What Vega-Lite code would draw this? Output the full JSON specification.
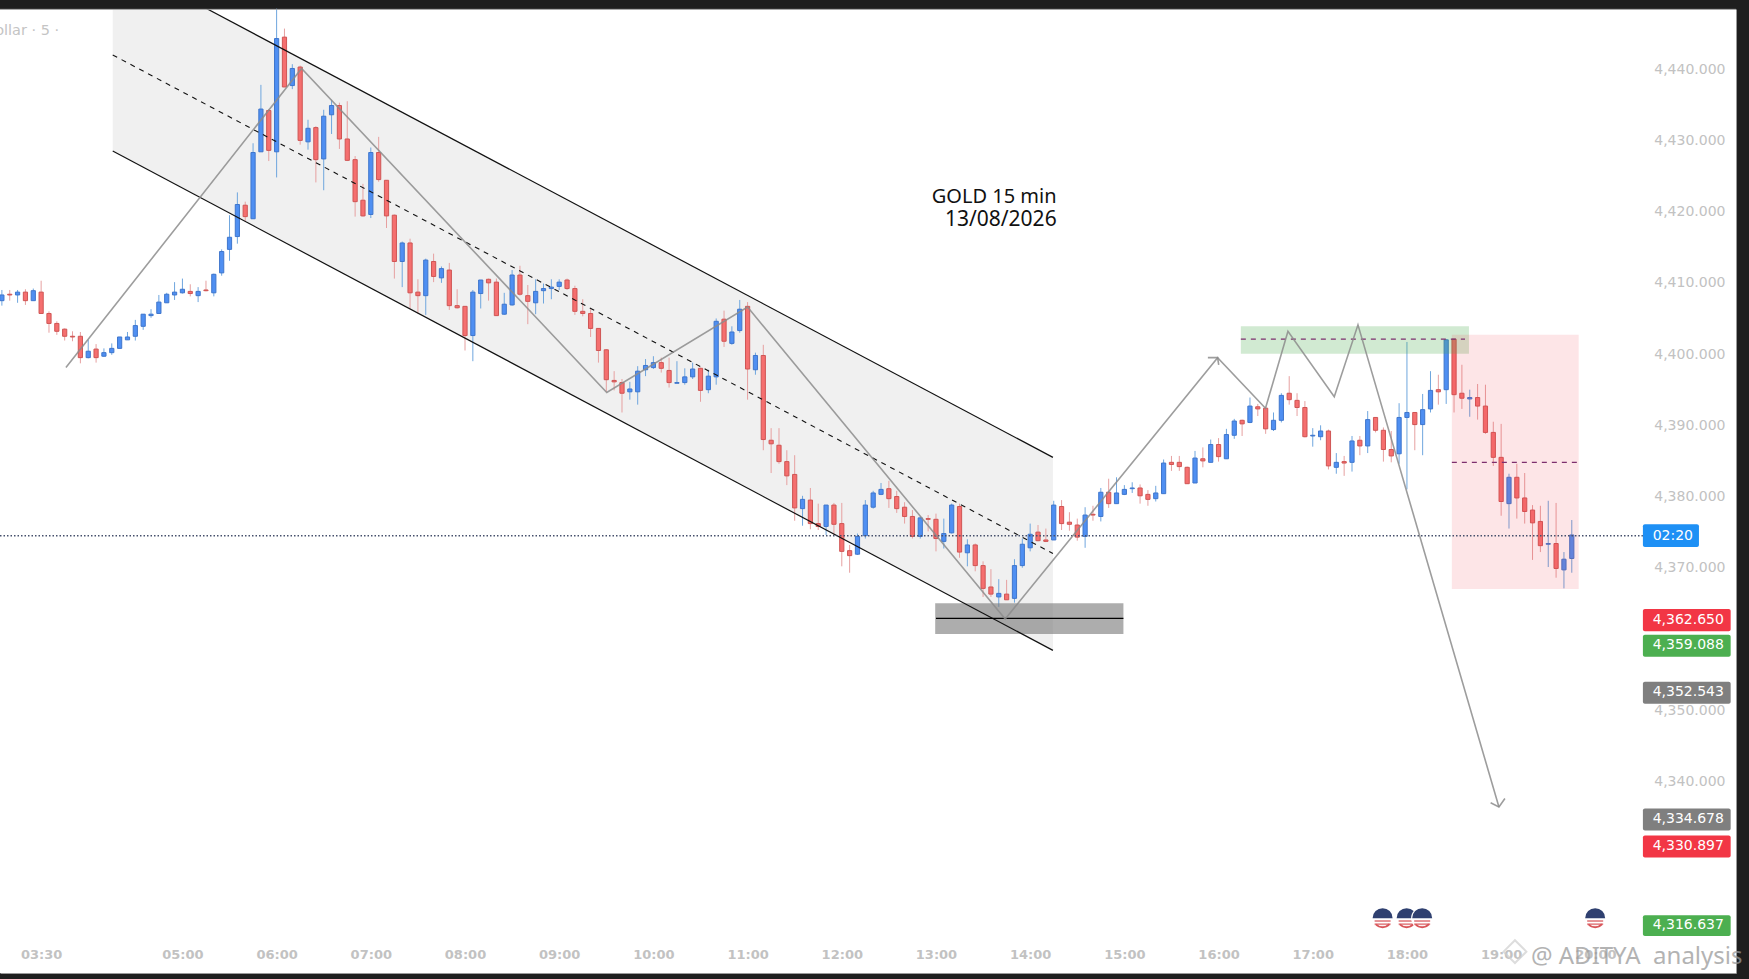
{
  "$schema": "https://vega.github.io/schema/vega-lite/v6.json",
  "width": 1736,
  "height": 964,
  "autosize": {"type": "none"},
  "padding": {"top": 9, "right": 13, "bottom": 6, "left": 0},
  "background": "#1e1e1e",
  "view": {"fill": "#ffffff", "stroke": null},
  "config": {
    "axis": {"grid": false, "ticks": false, "title": null, "labelOverlap": false, "domainColor": "#9a9a9a", "labelColor": "#c2c2c2", "labelFont": "DejaVu Sans"}
  },
  "datasets": {
    "candles": [
      {"t":"2026-08-13T03:05","o":4407.5,"h":4409.0,"l":4406.8,"c":4408.3},
      {"t":"2026-08-13T03:10","o":4408.4,"h":4409.0,"l":4407.5,"c":4408.3},
      {"t":"2026-08-13T03:15","o":4408.3,"h":4409.0,"l":4407.2,"c":4408.7},
      {"t":"2026-08-13T03:20","o":4408.7,"h":4409.1,"l":4406.9,"c":4407.5},
      {"t":"2026-08-13T03:25","o":4407.5,"h":4409.2,"l":4407.5,"c":4408.9},
      {"t":"2026-08-13T03:30","o":4408.7,"h":4410.3,"l":4405.7,"c":4405.7},
      {"t":"2026-08-13T03:35","o":4405.7,"h":4406.0,"l":4403.0,"c":4404.3},
      {"t":"2026-08-13T03:40","o":4404.3,"h":4404.6,"l":4402.7,"c":4403.2},
      {"t":"2026-08-13T03:45","o":4403.5,"h":4403.6,"l":4401.9,"c":4402.5},
      {"t":"2026-08-13T03:50","o":4402.5,"h":4403.2,"l":4401.8,"c":4402.4},
      {"t":"2026-08-13T03:55","o":4402.5,"h":4403.1,"l":4398.7,"c":4399.5},
      {"t":"2026-08-13T04:00","o":4399.5,"h":4402.0,"l":4399.4,"c":4400.4},
      {"t":"2026-08-13T04:05","o":4400.7,"h":4401.4,"l":4398.8,"c":4399.5},
      {"t":"2026-08-13T04:10","o":4399.7,"h":4400.8,"l":4399.6,"c":4400.2},
      {"t":"2026-08-13T04:15","o":4400.2,"h":4401.5,"l":4399.9,"c":4400.8},
      {"t":"2026-08-13T04:20","o":4400.8,"h":4402.4,"l":4400.8,"c":4402.4},
      {"t":"2026-08-13T04:25","o":4402.0,"h":4403.1,"l":4402.0,"c":4402.4},
      {"t":"2026-08-13T04:30","o":4402.5,"h":4404.8,"l":4401.9,"c":4404.0},
      {"t":"2026-08-13T04:35","o":4403.9,"h":4405.6,"l":4403.4,"c":4405.6},
      {"t":"2026-08-13T04:40","o":4405.4,"h":4406.3,"l":4405.1,"c":4405.6},
      {"t":"2026-08-13T04:45","o":4405.7,"h":4408.3,"l":4405.7,"c":4407.3},
      {"t":"2026-08-13T04:50","o":4407.2,"h":4408.6,"l":4407.2,"c":4408.4},
      {"t":"2026-08-13T04:55","o":4408.3,"h":4410.1,"l":4407.6,"c":4408.7},
      {"t":"2026-08-13T05:00","o":4408.6,"h":4410.6,"l":4408.5,"c":4409.1},
      {"t":"2026-08-13T05:05","o":4408.8,"h":4409.8,"l":4408.1,"c":4408.5},
      {"t":"2026-08-13T05:10","o":4408.2,"h":4409.4,"l":4407.3,"c":4408.8},
      {"t":"2026-08-13T05:15","o":4409.0,"h":4410.3,"l":4408.8,"c":4408.9},
      {"t":"2026-08-13T05:20","o":4408.6,"h":4411.3,"l":4408.1,"c":4411.2},
      {"t":"2026-08-13T05:25","o":4411.4,"h":4414.7,"l":4411.0,"c":4414.4},
      {"t":"2026-08-13T05:30","o":4414.7,"h":4419.5,"l":4413.1,"c":4416.4},
      {"t":"2026-08-13T05:35","o":4416.5,"h":4422.7,"l":4415.5,"c":4421.0},
      {"t":"2026-08-13T05:40","o":4420.9,"h":4421.4,"l":4418.6,"c":4419.3},
      {"t":"2026-08-13T05:45","o":4419.0,"h":4429.6,"l":4419.0,"c":4428.3},
      {"t":"2026-08-13T05:50","o":4428.4,"h":4437.8,"l":4428.4,"c":4434.4},
      {"t":"2026-08-13T05:55","o":4434.2,"h":4434.4,"l":4427.1,"c":4428.6},
      {"t":"2026-08-13T06:00","o":4428.4,"h":4448.5,"l":4424.8,"c":4444.3},
      {"t":"2026-08-13T06:05","o":4444.5,"h":4445.7,"l":4437.5,"c":4437.5},
      {"t":"2026-08-13T06:10","o":4437.7,"h":4440.7,"l":4437.2,"c":4440.1},
      {"t":"2026-08-13T06:15","o":4440.3,"h":4440.5,"l":4429.4,"c":4430.0},
      {"t":"2026-08-13T06:20","o":4429.8,"h":4432.9,"l":4428.7,"c":4431.7},
      {"t":"2026-08-13T06:25","o":4431.8,"h":4432.0,"l":4424.1,"c":4427.3},
      {"t":"2026-08-13T06:30","o":4427.4,"h":4434.3,"l":4423.0,"c":4433.4},
      {"t":"2026-08-13T06:35","o":4433.6,"h":4435.7,"l":4430.9,"c":4434.9},
      {"t":"2026-08-13T06:40","o":4434.9,"h":4435.3,"l":4428.8,"c":4430.2},
      {"t":"2026-08-13T06:45","o":4430.2,"h":4435.5,"l":4427.1,"c":4427.2},
      {"t":"2026-08-13T06:50","o":4427.3,"h":4427.8,"l":4419.3,"c":4421.4},
      {"t":"2026-08-13T06:55","o":4421.6,"h":4423.9,"l":4419.3,"c":4419.4},
      {"t":"2026-08-13T07:00","o":4419.6,"h":4429.0,"l":4419.1,"c":4428.3},
      {"t":"2026-08-13T07:05","o":4428.3,"h":4430.5,"l":4424.2,"c":4424.5},
      {"t":"2026-08-13T07:10","o":4424.4,"h":4424.4,"l":4417.7,"c":4419.4},
      {"t":"2026-08-13T07:15","o":4419.5,"h":4419.6,"l":4410.6,"c":4413.0},
      {"t":"2026-08-13T07:20","o":4413.0,"h":4415.8,"l":4409.4,"c":4415.6},
      {"t":"2026-08-13T07:25","o":4415.6,"h":4416.2,"l":4406.4,"c":4408.6},
      {"t":"2026-08-13T07:30","o":4408.7,"h":4410.5,"l":4405.7,"c":4408.2},
      {"t":"2026-08-13T07:35","o":4408.2,"h":4413.4,"l":4405.5,"c":4413.2},
      {"t":"2026-08-13T07:40","o":4413.0,"h":4414.1,"l":4410.1,"c":4410.9},
      {"t":"2026-08-13T07:45","o":4410.7,"h":4412.3,"l":4410.0,"c":4412.0},
      {"t":"2026-08-13T07:50","o":4411.8,"h":4412.8,"l":4406.2,"c":4406.8},
      {"t":"2026-08-13T07:55","o":4406.8,"h":4409.1,"l":4406.4,"c":4406.5},
      {"t":"2026-08-13T08:00","o":4406.7,"h":4406.7,"l":4400.5,"c":4402.6},
      {"t":"2026-08-13T08:05","o":4402.6,"h":4409.0,"l":4399.0,"c":4408.7},
      {"t":"2026-08-13T08:10","o":4408.5,"h":4410.4,"l":4406.4,"c":4410.4},
      {"t":"2026-08-13T08:15","o":4410.5,"h":4410.6,"l":4407.5,"c":4410.0},
      {"t":"2026-08-13T08:20","o":4410.1,"h":4410.6,"l":4405.4,"c":4405.4},
      {"t":"2026-08-13T08:25","o":4405.6,"h":4408.6,"l":4405.5,"c":4407.0},
      {"t":"2026-08-13T08:30","o":4406.9,"h":4411.8,"l":4406.8,"c":4411.1},
      {"t":"2026-08-13T08:35","o":4411.1,"h":4412.4,"l":4408.2,"c":4408.4},
      {"t":"2026-08-13T08:40","o":4408.2,"h":4409.7,"l":4404.2,"c":4407.4},
      {"t":"2026-08-13T08:45","o":4407.2,"h":4410.5,"l":4405.6,"c":4408.8},
      {"t":"2026-08-13T08:50","o":4408.9,"h":4409.9,"l":4407.1,"c":4409.2},
      {"t":"2026-08-13T08:55","o":4409.2,"h":4410.5,"l":4407.7,"c":4409.4},
      {"t":"2026-08-13T09:00","o":4409.5,"h":4410.5,"l":4409.0,"c":4410.1},
      {"t":"2026-08-13T09:05","o":4410.4,"h":4410.6,"l":4409.0,"c":4409.2},
      {"t":"2026-08-13T09:10","o":4409.2,"h":4409.6,"l":4405.5,"c":4406.0},
      {"t":"2026-08-13T09:15","o":4406.0,"h":4407.7,"l":4405.3,"c":4405.7},
      {"t":"2026-08-13T09:20","o":4405.7,"h":4406.3,"l":4402.4,"c":4403.6},
      {"t":"2026-08-13T09:25","o":4403.6,"h":4403.6,"l":4398.8,"c":4400.5},
      {"t":"2026-08-13T09:30","o":4400.6,"h":4400.7,"l":4394.7,"c":4396.4},
      {"t":"2026-08-13T09:35","o":4396.3,"h":4397.6,"l":4394.9,"c":4396.1},
      {"t":"2026-08-13T09:40","o":4396.0,"h":4396.5,"l":4391.8,"c":4394.5},
      {"t":"2026-08-13T09:45","o":4394.7,"h":4396.1,"l":4393.6,"c":4395.1},
      {"t":"2026-08-13T09:50","o":4394.7,"h":4398.3,"l":4392.9,"c":4397.6},
      {"t":"2026-08-13T09:55","o":4397.8,"h":4399.3,"l":4396.9,"c":4398.4},
      {"t":"2026-08-13T10:00","o":4398.1,"h":4399.7,"l":4397.9,"c":4398.8},
      {"t":"2026-08-13T10:05","o":4398.8,"h":4399.5,"l":4397.4,"c":4398.0},
      {"t":"2026-08-13T10:10","o":4397.7,"h":4399.5,"l":4395.3,"c":4396.0},
      {"t":"2026-08-13T10:15","o":4395.9,"h":4399.0,"l":4395.9,"c":4396.0},
      {"t":"2026-08-13T10:20","o":4396.0,"h":4398.0,"l":4395.7,"c":4396.8},
      {"t":"2026-08-13T10:25","o":4396.8,"h":4398.8,"l":4396.5,"c":4397.9},
      {"t":"2026-08-13T10:30","o":4398.0,"h":4398.1,"l":4393.3,"c":4394.9},
      {"t":"2026-08-13T10:35","o":4395.0,"h":4397.8,"l":4394.5,"c":4396.9},
      {"t":"2026-08-13T10:40","o":4396.8,"h":4405.0,"l":4395.7,"c":4404.6},
      {"t":"2026-08-13T10:45","o":4404.9,"h":4406.1,"l":4401.0,"c":4401.8},
      {"t":"2026-08-13T10:50","o":4401.5,"h":4403.9,"l":4401.3,"c":4403.1},
      {"t":"2026-08-13T10:55","o":4403.3,"h":4407.6,"l":4403.0,"c":4406.3},
      {"t":"2026-08-13T11:00","o":4406.7,"h":4407.3,"l":4393.6,"c":4397.9},
      {"t":"2026-08-13T11:05","o":4397.8,"h":4400.2,"l":4397.1,"c":4399.8},
      {"t":"2026-08-13T11:10","o":4399.8,"h":4401.3,"l":4386.5,"c":4388.0},
      {"t":"2026-08-13T11:15","o":4387.9,"h":4389.6,"l":4383.3,"c":4387.4},
      {"t":"2026-08-13T11:20","o":4387.2,"h":4389.6,"l":4384.6,"c":4384.9},
      {"t":"2026-08-13T11:25","o":4384.9,"h":4386.5,"l":4381.6,"c":4382.9},
      {"t":"2026-08-13T11:30","o":4383.1,"h":4385.8,"l":4376.6,"c":4378.4},
      {"t":"2026-08-13T11:35","o":4378.3,"h":4380.1,"l":4375.9,"c":4379.6},
      {"t":"2026-08-13T11:40","o":4379.5,"h":4381.2,"l":4375.4,"c":4376.2},
      {"t":"2026-08-13T11:45","o":4376.2,"h":4379.0,"l":4375.3,"c":4375.8},
      {"t":"2026-08-13T11:50","o":4375.8,"h":4378.8,"l":4374.6,"c":4378.8},
      {"t":"2026-08-13T11:55","o":4378.8,"h":4379.1,"l":4374.6,"c":4376.1},
      {"t":"2026-08-13T12:00","o":4376.2,"h":4379.1,"l":4370.2,"c":4372.3},
      {"t":"2026-08-13T12:05","o":4372.4,"h":4373.2,"l":4369.3,"c":4371.7},
      {"t":"2026-08-13T12:10","o":4371.9,"h":4374.8,"l":4371.8,"c":4374.4},
      {"t":"2026-08-13T12:15","o":4374.5,"h":4379.5,"l":4374.1,"c":4378.8},
      {"t":"2026-08-13T12:20","o":4378.5,"h":4380.8,"l":4378.3,"c":4380.5},
      {"t":"2026-08-13T12:25","o":4380.3,"h":4381.9,"l":4380.2,"c":4381.0},
      {"t":"2026-08-13T12:30","o":4381.1,"h":4382.2,"l":4378.4,"c":4379.7},
      {"t":"2026-08-13T12:35","o":4380.0,"h":4380.8,"l":4377.7,"c":4378.3},
      {"t":"2026-08-13T12:40","o":4378.5,"h":4379.2,"l":4376.2,"c":4377.2},
      {"t":"2026-08-13T12:45","o":4377.2,"h":4378.1,"l":4374.1,"c":4374.4},
      {"t":"2026-08-13T12:50","o":4374.4,"h":4377.2,"l":4374.1,"c":4377.0},
      {"t":"2026-08-13T12:55","o":4376.9,"h":4377.4,"l":4375.1,"c":4376.8},
      {"t":"2026-08-13T13:00","o":4376.8,"h":4377.6,"l":4372.3,"c":4374.1},
      {"t":"2026-08-13T13:05","o":4373.7,"h":4376.9,"l":4372.7,"c":4374.8},
      {"t":"2026-08-13T13:10","o":4374.9,"h":4379.0,"l":4374.8,"c":4378.8},
      {"t":"2026-08-13T13:15","o":4378.6,"h":4379.0,"l":4371.4,"c":4372.2},
      {"t":"2026-08-13T13:20","o":4372.1,"h":4374.0,"l":4370.2,"c":4373.2},
      {"t":"2026-08-13T13:25","o":4373.2,"h":4373.4,"l":4369.5,"c":4370.3},
      {"t":"2026-08-13T13:30","o":4370.3,"h":4370.9,"l":4365.9,"c":4367.1},
      {"t":"2026-08-13T13:35","o":4367.3,"h":4369.8,"l":4365.9,"c":4366.3},
      {"t":"2026-08-13T13:40","o":4365.9,"h":4368.4,"l":4364.5,"c":4366.4},
      {"t":"2026-08-13T13:45","o":4366.3,"h":4368.3,"l":4365.5,"c":4365.5},
      {"t":"2026-08-13T13:50","o":4365.7,"h":4371.2,"l":4365.1,"c":4370.3},
      {"t":"2026-08-13T13:55","o":4370.3,"h":4374.1,"l":4370.0,"c":4373.3},
      {"t":"2026-08-13T14:00","o":4372.8,"h":4376.2,"l":4372.3,"c":4374.7},
      {"t":"2026-08-13T14:05","o":4375.0,"h":4376.0,"l":4373.7,"c":4373.8},
      {"t":"2026-08-13T14:10","o":4373.9,"h":4375.5,"l":4373.6,"c":4373.7},
      {"t":"2026-08-13T14:15","o":4373.9,"h":4379.4,"l":4373.9,"c":4378.8},
      {"t":"2026-08-13T14:20","o":4378.6,"h":4379.5,"l":4375.3,"c":4376.2},
      {"t":"2026-08-13T14:25","o":4376.4,"h":4377.8,"l":4375.2,"c":4376.1},
      {"t":"2026-08-13T14:30","o":4376.0,"h":4376.9,"l":4373.8,"c":4374.3},
      {"t":"2026-08-13T14:35","o":4374.4,"h":4378.5,"l":4372.8,"c":4377.4},
      {"t":"2026-08-13T14:40","o":4377.5,"h":4378.7,"l":4376.6,"c":4377.4},
      {"t":"2026-08-13T14:45","o":4377.2,"h":4381.2,"l":4376.5,"c":4380.6},
      {"t":"2026-08-13T14:50","o":4380.6,"h":4382.5,"l":4378.4,"c":4379.0},
      {"t":"2026-08-13T14:55","o":4379.0,"h":4382.7,"l":4379.0,"c":4380.5},
      {"t":"2026-08-13T15:00","o":4380.3,"h":4381.6,"l":4380.2,"c":4381.0},
      {"t":"2026-08-13T15:05","o":4381.1,"h":4382.0,"l":4380.5,"c":4381.2},
      {"t":"2026-08-13T15:10","o":4381.2,"h":4381.7,"l":4379.0,"c":4380.1},
      {"t":"2026-08-13T15:15","o":4380.3,"h":4380.9,"l":4378.7,"c":4379.6},
      {"t":"2026-08-13T15:20","o":4379.7,"h":4381.5,"l":4379.3,"c":4380.5},
      {"t":"2026-08-13T15:25","o":4380.4,"h":4385.2,"l":4380.4,"c":4384.7},
      {"t":"2026-08-13T15:30","o":4384.8,"h":4385.7,"l":4383.6,"c":4384.5},
      {"t":"2026-08-13T15:35","o":4384.8,"h":4385.7,"l":4383.6,"c":4384.2},
      {"t":"2026-08-13T15:40","o":4384.1,"h":4384.2,"l":4381.8,"c":4381.8},
      {"t":"2026-08-13T15:45","o":4381.9,"h":4386.4,"l":4381.9,"c":4385.4},
      {"t":"2026-08-13T15:50","o":4385.3,"h":4386.9,"l":4384.1,"c":4385.0},
      {"t":"2026-08-13T15:55","o":4384.8,"h":4388.0,"l":4384.8,"c":4387.3},
      {"t":"2026-08-13T16:00","o":4387.3,"h":4388.2,"l":4384.9,"c":4385.6},
      {"t":"2026-08-13T16:05","o":4385.3,"h":4389.5,"l":4385.3,"c":4388.7},
      {"t":"2026-08-13T16:10","o":4388.6,"h":4390.9,"l":4388.1,"c":4390.6},
      {"t":"2026-08-13T16:15","o":4390.7,"h":4390.8,"l":4388.5,"c":4390.2},
      {"t":"2026-08-13T16:20","o":4390.4,"h":4393.9,"l":4390.3,"c":4392.7},
      {"t":"2026-08-13T16:25","o":4392.6,"h":4393.0,"l":4391.3,"c":4392.3},
      {"t":"2026-08-13T16:30","o":4392.4,"h":4392.6,"l":4388.8,"c":4389.5},
      {"t":"2026-08-13T16:35","o":4389.4,"h":4391.8,"l":4389.2,"c":4390.7},
      {"t":"2026-08-13T16:40","o":4390.7,"h":4394.5,"l":4390.4,"c":4394.2},
      {"t":"2026-08-13T16:45","o":4394.5,"h":4396.9,"l":4392.9,"c":4393.6},
      {"t":"2026-08-13T16:50","o":4393.5,"h":4394.5,"l":4391.3,"c":4392.5},
      {"t":"2026-08-13T16:55","o":4392.5,"h":4393.4,"l":4388.3,"c":4388.4},
      {"t":"2026-08-13T17:00","o":4388.5,"h":4389.6,"l":4387.0,"c":4388.6},
      {"t":"2026-08-13T17:05","o":4388.4,"h":4390.0,"l":4387.9,"c":4389.2},
      {"t":"2026-08-13T17:10","o":4389.2,"h":4389.4,"l":4383.8,"c":4384.3},
      {"t":"2026-08-13T17:15","o":4384.1,"h":4386.1,"l":4383.2,"c":4384.8},
      {"t":"2026-08-13T17:20","o":4384.9,"h":4385.7,"l":4382.9,"c":4384.7},
      {"t":"2026-08-13T17:25","o":4384.8,"h":4388.5,"l":4383.5,"c":4387.8},
      {"t":"2026-08-13T17:30","o":4387.9,"h":4388.5,"l":4385.8,"c":4387.1},
      {"t":"2026-08-13T17:35","o":4387.1,"h":4392.0,"l":4386.1,"c":4390.8},
      {"t":"2026-08-13T17:40","o":4391.1,"h":4391.1,"l":4389.0,"c":4389.3},
      {"t":"2026-08-13T17:45","o":4389.3,"h":4389.7,"l":4384.9,"c":4386.6},
      {"t":"2026-08-13T17:50","o":4386.6,"h":4389.2,"l":4384.8,"c":4385.7},
      {"t":"2026-08-13T17:55","o":4386.0,"h":4393.1,"l":4384.6,"c":4391.1},
      {"t":"2026-08-13T18:00","o":4391.1,"h":4401.7,"l":4381.0,"c":4391.8},
      {"t":"2026-08-13T18:05","o":4391.8,"h":4391.8,"l":4386.5,"c":4390.1},
      {"t":"2026-08-13T18:10","o":4390.1,"h":4394.4,"l":4385.8,"c":4392.2},
      {"t":"2026-08-13T18:15","o":4392.3,"h":4397.6,"l":4391.8,"c":4394.9},
      {"t":"2026-08-13T18:20","o":4395.0,"h":4397.1,"l":4392.9,"c":4394.7},
      {"t":"2026-08-13T18:25","o":4395.0,"h":4402.1,"l":4393.0,"c":4402.0},
      {"t":"2026-08-13T18:30","o":4402.1,"h":4402.1,"l":4391.8,"c":4394.3},
      {"t":"2026-08-13T18:35","o":4394.5,"h":4398.5,"l":4392.3,"c":4393.8},
      {"t":"2026-08-13T18:40","o":4393.7,"h":4395.0,"l":4391.2,"c":4393.9},
      {"t":"2026-08-13T18:45","o":4393.9,"h":4395.8,"l":4390.8,"c":4392.7},
      {"t":"2026-08-13T18:50","o":4392.7,"h":4395.7,"l":4388.8,"c":4389.0},
      {"t":"2026-08-13T18:55","o":4389.0,"h":4390.5,"l":4384.3,"c":4385.5},
      {"t":"2026-08-13T19:00","o":4385.5,"h":4390.2,"l":4377.3,"c":4379.3},
      {"t":"2026-08-13T19:05","o":4379.0,"h":4383.2,"l":4375.5,"c":4382.7},
      {"t":"2026-08-13T19:10","o":4382.7,"h":4384.6,"l":4376.9,"c":4379.8},
      {"t":"2026-08-13T19:15","o":4379.8,"h":4383.3,"l":4376.2,"c":4377.9},
      {"t":"2026-08-13T19:20","o":4378.1,"h":4378.8,"l":4371.1,"c":4376.3},
      {"t":"2026-08-13T19:25","o":4376.5,"h":4378.7,"l":4372.2,"c":4373.1},
      {"t":"2026-08-13T19:30","o":4373.3,"h":4379.4,"l":4370.1,"c":4373.4},
      {"t":"2026-08-13T19:35","o":4373.4,"h":4379.1,"l":4368.6,"c":4369.9},
      {"t":"2026-08-13T19:40","o":4369.7,"h":4372.2,"l":4367.1,"c":4371.2},
      {"t":"2026-08-13T19:45","o":4371.3,"h":4376.7,"l":4369.3,"c":4374.6}
    ],
    "channel": [
      {"t":"2026-08-13T04:15:36","upper":4455.5,"mid":4442.0,"lower":4428.5},
      {"t":"2026-08-13T14:14:30","upper":4385.5,"mid":4372.0,"lower":4358.4}
    ],
    "zigzag": [
      {"seg":"path","n":1,"t":"2026-08-13T03:45:48","p":4398.1},
      {"seg":"path","n":2,"t":"2026-08-13T06:15:54","p":4440.1},
      {"seg":"path","n":3,"t":"2026-08-13T09:30:18","p":4394.6},
      {"seg":"path","n":4,"t":"2026-08-13T11:00:00","p":4406.6},
      {"seg":"path","n":5,"t":"2026-08-13T13:44:06","p":4362.8},
      {"seg":"path","n":6,"t":"2026-08-13T15:59:24","p":4399.5},
      {"seg":"path","n":7,"t":"2026-08-13T16:29:54","p":4392.4},
      {"seg":"path","n":8,"t":"2026-08-13T16:44:12","p":4403.2},
      {"seg":"path","n":9,"t":"2026-08-13T17:13:42","p":4394.0},
      {"seg":"path","n":10,"t":"2026-08-13T17:28:48","p":4404.1},
      {"seg":"path","n":11,"t":"2026-08-13T18:58:36","p":4336.4},
      {"seg":"head1","n":1,"t":"2026-08-13T15:53:12","p":4399.5},
      {"seg":"head1","n":2,"t":"2026-08-13T15:59:24","p":4399.5},
      {"seg":"head1","n":3,"t":"2026-08-13T16:00:06","p":4398.5},
      {"seg":"head2","n":1,"t":"2026-08-13T18:53:18","p":4337.0},
      {"seg":"head2","n":2,"t":"2026-08-13T18:58:36","p":4336.4},
      {"seg":"head2","n":3,"t":"2026-08-13T19:02:24","p":4337.6}
    ],
    "zones": [
      {"zone":"support","t":"2026-08-13T12:59:30","t2":"2026-08-13T14:59:24","p":4365.0,"p2":4360.7},
      {"zone":"entry","t":"2026-08-13T16:14:12","t2":"2026-08-13T18:39:30","p":4403.9,"p2":4400.05},
      {"zone":"target","t":"2026-08-13T18:28:36","t2":"2026-08-13T19:49:24","p":4402.7,"p2":4367.0}
    ],
    "levels": [
      {"t":"2026-08-13T16:14:12","t2":"2026-08-13T18:37:00","p":4402.1},
      {"t":"2026-08-13T18:28:36","t2":"2026-08-13T19:49:00","p":4384.8}
    ],
    "badges": [
      {"label":"02:20","bg":"timer","t":"2026-08-13T20:30:18","t2":"2026-08-13T21:06:00","p":4376.1,"p2":4372.9,"tx":"2026-08-13T20:36:30","py":4374.5},
      {"label":"4,362.650","bg":"sell","t":"2026-08-13T20:30:18","t2":"2026-08-13T21:26:12","p":4364.2,"p2":4361.1,"tx":"2026-08-13T20:36:30","py":4362.65},
      {"label":"4,359.088","bg":"buy","t":"2026-08-13T20:30:18","t2":"2026-08-13T21:26:12","p":4360.6,"p2":4357.5,"tx":"2026-08-13T20:36:30","py":4359.09},
      {"label":"4,352.543","bg":"level","t":"2026-08-13T20:30:18","t2":"2026-08-13T21:26:12","p":4354.0,"p2":4350.9,"tx":"2026-08-13T20:36:30","py":4352.54},
      {"label":"4,334.678","bg":"level","t":"2026-08-13T20:30:18","t2":"2026-08-13T21:26:12","p":4336.2,"p2":4333.1,"tx":"2026-08-13T20:36:30","py":4334.68},
      {"label":"4,330.897","bg":"sell","t":"2026-08-13T20:30:18","t2":"2026-08-13T21:26:12","p":4332.4,"p2":4329.3,"tx":"2026-08-13T20:36:30","py":4330.9},
      {"label":"4,316.637","bg":"buy","t":"2026-08-13T20:30:18","t2":"2026-08-13T21:26:12","p":4321.2,"p2":4318.3,"tx":"2026-08-13T20:36:30","py":4319.8}
    ],
    "flags": [
      {"front":false,"t":"2026-08-13T17:44:30","p":4320.8},
      {"front":false,"t":"2026-08-13T17:59:48","p":4320.8},
      {"front":false,"t":"2026-08-13T19:59:54","p":4320.8},
      {"front":true,"t":"2026-08-13T18:09:42","p":4320.8}
    ],
    "stripes": [
      {"front":false,"t":"2026-08-13T17:44:30","p":4320.4},
      {"front":false,"t":"2026-08-13T17:44:30","p":4319.95},
      {"front":false,"t":"2026-08-13T17:59:48","p":4320.4},
      {"front":false,"t":"2026-08-13T17:59:48","p":4319.95},
      {"front":false,"t":"2026-08-13T19:59:54","p":4320.4},
      {"front":false,"t":"2026-08-13T19:59:54","p":4319.95},
      {"front":true,"t":"2026-08-13T18:09:42","p":4320.4},
      {"front":true,"t":"2026-08-13T18:09:42","p":4319.95}
    ],
    "notes": [
      {"text":"GOLD 15 min","t":"2026-08-13T12:57:18","p":4421.2},
      {"text":"13/08/2026","t":"2026-08-13T13:05:42","p":4418.0}
    ]
  },
  "encoding": {
    "x": {
      "field": "t",
      "type": "temporal",
      "scale": {"domain": ["2026-08-13T03:03:48", "2026-08-13T21:29:36"], "nice": false, "padding": 0},
      "axis": {
        "format": "%H:%M",
        "values": ["2026-08-13T03:30", "2026-08-13T05:00", "2026-08-13T06:00", "2026-08-13T07:00", "2026-08-13T08:00", "2026-08-13T09:00", "2026-08-13T10:00", "2026-08-13T11:00", "2026-08-13T12:00", "2026-08-13T13:00", "2026-08-13T14:00", "2026-08-13T15:00", "2026-08-13T16:00", "2026-08-13T17:00", "2026-08-13T18:00", "2026-08-13T19:00", "2026-08-13T20:00"],
        "labelPadding": -25,
        "labelFontSize": 13,
        "labelFontWeight": "bold"
      }
    },
    "y": {
      "field": "p",
      "type": "quantitative",
      "scale": {"domain": [4313.1, 4448.45], "zero": false, "nice": false},
      "axis": {
        "orient": "right",
        "values": [4340, 4350, 4370, 4380, 4390, 4400, 4410, 4420, 4430, 4440],
        "format": ",.3f",
        "labelAlign": "right",
        "labelPadding": -11,
        "labelFontSize": 14
      }
    }
  },
  "layer": [
    {
      "data": {"name": "channel"},
      "mark": {"type": "area", "fill": "#f0f0f0", "clip": true},
      "encoding": {"y": {"field": "upper", "type": "quantitative"}, "y2": {"field": "lower"}}
    },
    {
      "data": {"name": "candles"},
      "mark": {"type": "rule", "strokeWidth": 1},
      "encoding": {
        "y": {"field": "l", "type": "quantitative"},
        "y2": {"field": "h"},
        "color": {"condition": {"test": "datum.c >= datum.o", "value": "#6fa6de"}, "value": "#e6a0a0"}
      }
    },
    {
      "data": {"name": "candles"},
      "mark": {"type": "bar", "size": 4.2, "strokeWidth": 1},
      "encoding": {
        "y": {"field": "o", "type": "quantitative"},
        "y2": {"field": "c"},
        "fill": {"condition": {"test": "datum.c >= datum.o", "value": "#4f8ff2"}, "value": "#f56f6f"},
        "stroke": {"condition": {"test": "datum.c >= datum.o", "value": "#3f76cc"}, "value": "#cf5554"}
      }
    },
    {
      "data": {"name": "zones"},
      "mark": {"type": "rect", "strokeWidth": 1},
      "encoding": {
        "x2": {"field": "t2"},
        "y2": {"field": "p2"},
        "fill": {"condition": [{"test": "datum.zone === 'support'", "value": "#7a7a7a"}, {"test": "datum.zone === 'entry'", "value": "#4caf50"}], "value": "#f23645"},
        "opacity": {"condition": [{"test": "datum.zone === 'support'", "value": 0.62}, {"test": "datum.zone === 'entry'", "value": 0.26}], "value": 0.13}
      }
    },
    {
      "data": {"name": "channel"},
      "mark": {"type": "line", "color": "#111111", "strokeWidth": 1.2, "clip": true},
      "encoding": {"y": {"field": "upper", "type": "quantitative"}}
    },
    {
      "data": {"name": "channel"},
      "mark": {"type": "line", "color": "#111111", "strokeWidth": 1.2, "clip": true},
      "encoding": {"y": {"field": "lower", "type": "quantitative"}}
    },
    {
      "data": {"name": "channel"},
      "mark": {"type": "line", "color": "#111111", "strokeWidth": 1.1, "strokeDash": [5, 5], "clip": true},
      "encoding": {"y": {"field": "mid", "type": "quantitative"}}
    },
    {
      "data": {"values": [{"t": "2026-08-13T13:00:00", "t2": "2026-08-13T14:59:24", "p": 4362.9}]},
      "mark": {"type": "rule", "color": "#000000", "strokeWidth": 1.2},
      "encoding": {"x2": {"field": "t2"}}
    },
    {
      "data": {"values": [{"t": "2026-08-13T03:03:48", "t2": "2026-08-13T20:30:18", "p": 4374.5}]},
      "mark": {"type": "rule", "color": "#46506c", "strokeWidth": 1.6, "strokeDash": [1.5, 2]},
      "encoding": {"x2": {"field": "t2"}}
    },
    {
      "data": {"name": "levels"},
      "mark": {"type": "rule", "color": "#7d2f6d", "strokeWidth": 1.1, "strokeDash": [5, 5]},
      "encoding": {"x2": {"field": "t2"}}
    },
    {
      "data": {"name": "zigzag"},
      "mark": {"type": "line", "color": "#8c8c8c", "strokeWidth": 1.6, "opacity": 0.85},
      "encoding": {"detail": {"field": "seg"}, "order": {"field": "n"}}
    },
    {
      "data": {"values": [{"t": "2026-08-13T03:03:48", "t2": "2026-08-13T21:29:36", "p": 4448.4}]},
      "mark": {"type": "rule", "color": "#9a9a9a", "strokeWidth": 1},
      "encoding": {"x2": {"field": "t2"}}
    },
    {
      "data": {"name": "badges"},
      "mark": {"type": "rect", "cornerRadius": 2},
      "encoding": {
        "x2": {"field": "t2"},
        "y2": {"field": "p2"},
        "fill": {"field": "bg", "type": "nominal", "legend": null, "scale": {"domain": ["timer", "sell", "buy", "level"], "range": ["#1e90f5", "#f23645", "#4caf50", "#7f7f7f"]}}
      }
    },
    {
      "data": {"name": "badges"},
      "mark": {"type": "text", "align": "left", "baseline": "middle", "font": "DejaVu Sans", "fontSize": 14, "color": "#ffffff"},
      "encoding": {
        "x": {"field": "tx", "type": "temporal"},
        "y": {"field": "py", "type": "quantitative"},
        "text": {"field": "label"}
      }
    },
    {
      "data": {"name": "notes"},
      "mark": {"type": "text", "align": "left", "baseline": "alphabetic", "font": "Noto Sans", "color": "#111111"},
      "encoding": {
        "text": {"field": "text"},
        "size": {"condition": {"test": "datum.text === '13/08/2026'", "value": 21}, "value": 20}
      }
    },
    {
      "data": {"values": [{"text": "ollar · 5 ·", "t": "2026-08-13T03:41:30", "p": 4444.8}]},
      "mark": {"type": "text", "align": "right", "baseline": "alphabetic", "font": "DejaVu Sans", "fontSize": 14.5, "color": "#c4c4c4", "clip": true},
      "encoding": {"text": {"field": "text"}}
    },
    {
      "data": {"name": "flags"},
      "transform": [{"filter": "!datum.front"}],
      "mark": {"type": "arc", "radius": 10, "theta": -1.5708, "theta2": 1.5708, "color": "#2f4070"},
      "encoding": {}
    },
    {
      "data": {"name": "flags"},
      "transform": [{"filter": "!datum.front"}],
      "mark": {"type": "arc", "radius": 10, "radius2": 8.2, "theta": 2.3, "theta2": 3.98, "color": "#d9565a"},
      "encoding": {}
    },
    {
      "data": {"name": "stripes"},
      "transform": [{"filter": "!datum.front"}],
      "mark": {"type": "tick", "orient": "horizontal", "size": 16, "thickness": 1.8, "color": "#d9565a"},
      "encoding": {}
    },
    {
      "data": {"name": "flags"},
      "transform": [{"filter": "datum.front"}],
      "mark": {"type": "point", "filled": true, "size": 490, "color": "#ffffff", "opacity": 1},
      "encoding": {}
    },
    {
      "data": {"name": "flags"},
      "transform": [{"filter": "datum.front"}],
      "mark": {"type": "arc", "radius": 10, "theta": -1.5708, "theta2": 1.5708, "color": "#2f4070"},
      "encoding": {}
    },
    {
      "data": {"name": "flags"},
      "transform": [{"filter": "datum.front"}],
      "mark": {"type": "arc", "radius": 10, "radius2": 8.2, "theta": 2.3, "theta2": 3.98, "color": "#d9565a"},
      "encoding": {}
    },
    {
      "data": {"name": "stripes"},
      "transform": [{"filter": "datum.front"}],
      "mark": {"type": "tick", "orient": "horizontal", "size": 16, "thickness": 1.8, "color": "#d9565a"},
      "encoding": {}
    },
    {
      "data": {"values": [{"t": "2026-08-13T19:08:48", "p": 4316.1}]},
      "mark": {"type": "point", "shape": "diamond", "size": 520, "filled": false, "stroke": "#cfcfcf", "strokeWidth": 2},
      "encoding": {}
    },
    {
      "data": {"values": [{"text": "@ ADITYA\u00a0 analysis", "t": "2026-08-13T19:19:00", "p": 4314.35}]},
      "mark": {"type": "text", "align": "left", "baseline": "alphabetic", "font": "Noto Sans", "fontSize": 24, "color": "#9a9a9a", "opacity": 0.75},
      "encoding": {"text": {"field": "text"}}
    }
  ]
}
